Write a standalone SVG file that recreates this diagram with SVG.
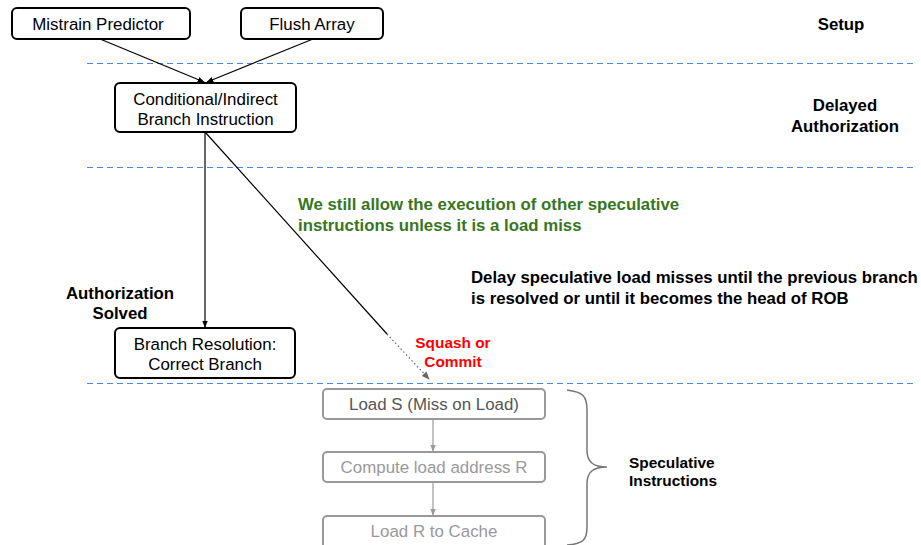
<svg xmlns="http://www.w3.org/2000/svg" width="921" height="545" viewBox="0 0 921 545">
<defs>
<style>
.box{fill:#fff;stroke:#000;stroke-width:2}
.gbox{fill:#fff;stroke:#999;stroke-width:2}
.t{font-family:"Liberation Sans",Arial,sans-serif;font-size:16.9px;fill:#000;text-anchor:middle}
.gt{font-family:"Liberation Sans",Arial,sans-serif;font-size:16.9px;fill:#999;text-anchor:middle}
.b{font-family:"Liberation Sans",Arial,sans-serif;font-size:16.8px;font-weight:bold;fill:#000}
.s{font-size:15.4px}
.c{text-anchor:middle}
.green{fill:#38761d}
.red{fill:#ff0000}
.sep{stroke:#4a86e8;stroke-width:1;stroke-dasharray:6,4;fill:none}
.line{stroke:#000;stroke-width:1.2;fill:none}
.gline{stroke:#999;stroke-width:1.2;fill:none}
</style>
<marker id="ah" viewBox="0 0 10 10" refX="9" refY="5" markerWidth="7" markerHeight="7" orient="auto" markerUnits="userSpaceOnUse"><path d="M0,1 L10,5 L0,9 z" fill="#000"/></marker>
<marker id="ahg" viewBox="0 0 10 10" refX="9" refY="5" markerWidth="7" markerHeight="7" orient="auto" markerUnits="userSpaceOnUse"><path d="M0,1 L10,5 L0,9 z" fill="#999"/></marker>
<marker id="ahd" viewBox="0 0 10 10" refX="9" refY="5" markerWidth="8" markerHeight="8" orient="auto" markerUnits="userSpaceOnUse"><path d="M0,1 L10,5 L0,9 z" fill="#666"/></marker>
</defs>
<rect width="921" height="545" fill="#fff"/>
<g id="separators">
<line class="sep" x1="87" y1="63.5" x2="913" y2="63.5"/>
<line class="sep" x1="87" y1="167.5" x2="913" y2="167.5"/>
<line class="sep" x1="87" y1="383.5" x2="913" y2="383.5"/>
</g>
<g id="connectors">
<line class="line" x1="100" y1="39" x2="204" y2="82" marker-end="url(#ah)"/>
<line class="line" x1="313" y1="39" x2="207" y2="82" marker-end="url(#ah)"/>
<line class="line" x1="205" y1="132" x2="205" y2="327" marker-end="url(#ah)"/>
<line class="line" x1="205" y1="132" x2="387" y2="334"/>
<line x1="387" y1="334" x2="429" y2="379" stroke="#666" stroke-width="1.2" stroke-dasharray="1.5,2.5" marker-end="url(#ahd)"/>
<line class="gline" x1="433" y1="419" x2="433" y2="451" marker-end="url(#ahg)"/>
<line class="gline" x1="433" y1="482" x2="433" y2="515" marker-end="url(#ahg)"/>
</g>
<g id="mistrain"><rect class="box" x="12" y="8" width="178" height="31" rx="5"/><text class="t" x="98" y="30">Mistrain Predictor</text></g>
<g id="flush"><rect class="box" x="241" y="8" width="142" height="31" rx="5"/><text class="t" x="312" y="30">Flush Array</text></g>
<g id="branch"><rect class="box" x="115" y="83" width="181" height="49" rx="5"/><text class="t" x="205.5" y="105">Conditional/Indirect</text><text class="t" x="205.5" y="125">Branch Instruction</text></g>
<g id="resolution"><rect class="box" x="115" y="328" width="180" height="50" rx="5"/><text class="t" x="205" y="350">Branch Resolution:</text><text class="t" x="205" y="370">Correct Branch</text></g>
<g id="loadS"><rect class="gbox" x="323" y="389" width="222" height="30" rx="4"/><text class="t" x="434" y="410" style="fill:#555">Load S (Miss on Load)</text></g>
<g id="compute"><rect class="gbox" x="323" y="452" width="222" height="30" rx="4"/><text class="gt" x="434" y="473">Compute load address R</text></g>
<g id="loadR"><rect class="gbox" x="323" y="516" width="222" height="32" rx="4"/><text class="gt" x="434" y="537">Load R to Cache</text></g>
<g id="brace"><path d="M567,390 C583,392 587,396 587,410 L587,450 C587,462 593,467 607,467 C593,467 587,472 587,484 L587,527 C587,540 583,544 567,545" fill="none" stroke="#777" stroke-width="1.5"/></g>
<g id="labels">
<text class="b c" x="841" y="30">Setup</text>
<text class="b c" x="845" y="111">Delayed</text>
<text class="b c" x="845" y="132">Authorization</text>
<text class="b c" x="120" y="299">Authorization</text>
<text class="b c" x="120" y="319">Solved</text>
<text class="b green" x="298" y="210">We still allow the execution of other speculative</text>
<text class="b green" x="298" y="231">instructions unless it is a load miss</text>
<text class="b" x="471" y="283">Delay speculative load misses until the previous branch</text>
<text class="b" x="471" y="304">is resolved or until it becomes the head of ROB</text>
<text class="b c red s" x="453" y="348">Squash or</text>
<text class="b c red s" x="453" y="367">Commit</text>
<text class="b s" x="629" y="468">Speculative</text>
<text class="b s" x="629" y="486">Instructions</text>
</g>
</svg>
